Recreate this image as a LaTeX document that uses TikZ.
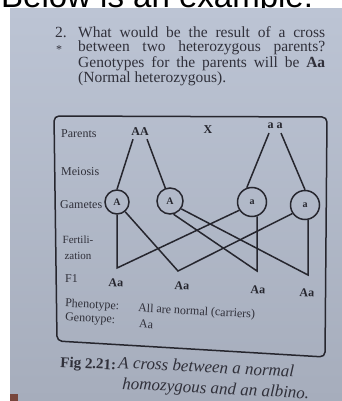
\documentclass[tikz,border=0pt]{standalone}
\usepackage{fontspec}
\setmainfont{Liberation Serif}
\newfontfamily\topsans{Liberation Sans}
\definecolor{inkc}{RGB}{38,38,46}
\definecolor{txtc}{RGB}{48,48,58}
\definecolor{bgtop}{RGB}{188,196,212}
\definecolor{bgbot}{RGB}{166,173,188}
\definecolor{tablec}{RGB}{120,70,60}
\begin{document}
\begin{tikzpicture}[x=1pt,y=-1pt,
  ink/.style={draw=inkc, line width=1.5pt, line join=miter},
  para/.style={text=txtc, inner sep=0pt, font=\fontsize{15.5}{14}\selectfont},
  lbl/.style={text=txtc, inner sep=0pt, font=\fontsize{12}{13}\selectfont},
  small/.style={text=txtc, inner sep=0pt, font=\fontsize{11}{16}\selectfont},
  allele/.style={text=inkc, inner sep=0pt, font=\bfseries\fontsize{12}{13}\selectfont},
  gam/.style={circle, draw=inkc, line width=1.5pt, inner sep=0pt, text=inkc, font=\bfseries\fontsize{10}{11}\selectfont},
  captext/.style={text=txtc, inner sep=0pt, anchor=base west, rotate=-3, font=\itshape\fontsize{17}{18}\selectfont},
]
\useasboundingbox (0,0) rectangle (342,401);
\fill[white] (0,0) rectangle (342,401);
\node[anchor=base west, inner sep=0pt, font=\topsans\fontsize{33}{33}\selectfont] (head) at (1,8) {Below is an example:};
\shade[top color=bgtop, bottom color=bgbot] (10,9) rectangle (342,401);
\fill[tablec] (10,394) rectangle (18,401);

% question text
\node[para, anchor=base west] (num) at (55,38) {2.};
\node[para, anchor=base west, text width=247pt, align=justify] (q) at (78,38)
  {What would be the result of a cross\linebreak between two heterozygous parents?\linebreak
   Genotypes for the parents will be \textbf{Aa}\linebreak (Normal heterozygous).};
\node[text=txtc, inner sep=0pt, font=\fontsize{12}{12}\selectfont] (star) at (59,50) {*};

% frame
\draw[ink, rounded corners=5pt] (54,116) -- (327,117) -- (325,357) -- (57,341) -- cycle;

% row labels
\node[lbl, anchor=west] (parents) at (61,134) {Parents};
\node[lbl, anchor=west] (meiosis) at (61,172) {Meiosis};
\node[lbl, anchor=west] (gametes) at (60,205) {Gametes};
\node[small, align=center] (fert) at (78,248) {Fertili-\\zation};
\node[lbl, anchor=west] (f1lbl) at (65,279) {F1};

% parents
\node[allele] (AA) at (140,132) {AA};
\node[allele] (X) at (208,130) {X};
\node[allele] (aa) at (275,126) {a a};

% gametes
\node[gam, minimum size=24pt] (A1) at (117,202) {A};
\node[gam, minimum size=26pt] (A2) at (170,201) {A};
\node[gam, minimum size=29pt] (a1) at (252,202) {a};
\node[gam, minimum size=29pt] (a2) at (305,205) {a};

\draw[ink] ([xshift=-7pt,yshift=-3pt]AA.south) -- (A1.north);
\draw[ink] ([xshift=7pt,yshift=-3pt]AA.south) -- (A2.110);
\draw[ink] ([xshift=-6pt,yshift=-4pt]aa.south) -- (a1.110);
\draw[ink] ([xshift=6pt,yshift=-4pt]aa.south) -- (a2.north);

% fertilization
\coordinate (f1) at (117,268);
\coordinate (f2) at (178,271);
\coordinate (f3) at (257,271);
\coordinate (f4) at (308,275);
\draw[ink] (A1.south) -- (f1) -- (a1.-147);
\draw[ink] (A1.-50) -- (f2) -- (a2.-146);
\draw[ink] (A2.-75) -- (f3) -- (a1.-70);
\draw[ink] (A2.-35) -- (f4) -- (a2.-78);

% F1
\node[allele, rotate=-3] (o1) at (116,283) {Aa};
\node[allele, rotate=-3] (o2) at (182,286) {Aa};
\node[allele, rotate=-3] (o3) at (258,290) {Aa};
\node[allele, rotate=-3] (o4) at (307,293) {Aa};

\node[lbl, anchor=west, rotate=-3] (pheno) at (65,304) {Phenotype:};
\node[lbl, anchor=west, rotate=-3] (phenov) at (138,309) {All are normal (carriers)};
\node[lbl, anchor=west, rotate=-3] (geno) at (65,318) {Genotype:};
\node[lbl, anchor=west, rotate=-3] (genov) at (139,324) {Aa};

% caption
\node[captext, font=\bfseries\fontsize{15}{16}\selectfont] (fig) at (60,367) {Fig 2.21:};
\node[captext] (cap1) at (118,368) {A cross between a normal};
\node[captext] (cap2) at (122,389) {homozygous and an albino.};
\end{tikzpicture}
\end{document}
